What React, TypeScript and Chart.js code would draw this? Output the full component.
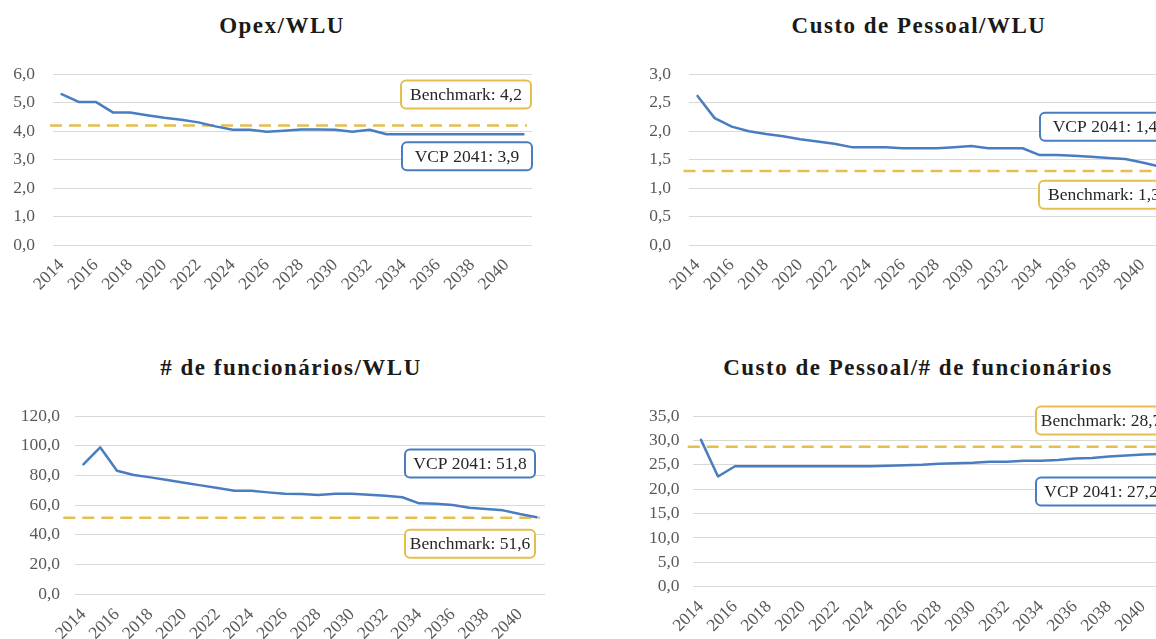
import { useEffect, useRef } from "react";
import { Chart, registerables } from "chart.js";

Chart.register(...registerables);

// Years on the horizontal axis (only even years get a label)
const years = [
  "2014", "2015", "2016", "2017", "2018", "2019", "2020", "2021", "2022", "2023",
  "2024", "2025", "2026", "2027", "2028", "2029", "2030", "2031", "2032", "2033",
  "2034", "2035", "2036", "2037", "2038", "2039", "2040", "2041",
];

// Opex/WLU
const opexPerWlu = [
  5.3, 5.03, 5.03, 4.66, 4.66, 4.56, 4.47, 4.4, 4.31, 4.17,
  4.05, 4.05, 3.98, 4.02, 4.06, 4.06, 4.05, 3.98, 4.05, 3.89,
  3.89, 3.89, 3.89, 3.89, 3.89, 3.89, 3.89, 3.89,
];
const opexBenchmark = 4.2;

// Custo de Pessoal/WLU
const staffCostPerWlu = [
  2.62, 2.23, 2.08, 2.0, 1.95, 1.91, 1.86, 1.82, 1.78, 1.72,
  1.72, 1.72, 1.7, 1.7, 1.7, 1.72, 1.74, 1.7, 1.7, 1.7,
  1.58, 1.58, 1.57, 1.55, 1.53, 1.51, 1.45, 1.38,
];
const staffCostBenchmark = 1.3;

// # de funcionários/WLU
const employeesPerWlu = [
  87.5, 98.9, 83.2, 80.3, 78.7, 76.9, 75.1, 73.3, 71.5, 69.7,
  69.7, 68.6, 67.7, 67.5, 66.8, 67.7, 67.7, 67.0, 66.4, 65.3,
  61.2, 61.0, 60.1, 58.3, 57.4, 56.5, 54.0, 51.8,
];
const employeesBenchmark = 51.6;

// Custo de Pessoal/# de funcionários
const costPerEmployee = [
  30.1, 22.6, 24.7, 24.7, 24.7, 24.7, 24.7, 24.7, 24.7, 24.7,
  24.7, 24.8, 24.9, 25.0, 25.2, 25.3, 25.4, 25.6, 25.6, 25.8,
  25.8, 26.0, 26.3, 26.4, 26.7, 26.9, 27.1, 27.2,
];
const costPerEmployeeBenchmark = 28.7;

const BLUE = "#4A7DC0";
const GOLD = "#E5BE4E";
const GRID = "#D9D9D9";
const TICK = "#595959";
const FONT = "'Liberation Serif', 'Times New Roman', serif";

const fmt = (v: number) => v.toFixed(1).replace(".", ",");

type Callout = { text: string; color: string; dx: number; yValue: number };

type Panel = {
  title: string;
  titleX: number;
  titleBaseline: number;
  canvas: { left: number; top: number; width: number; height: number };
  padTop: number;
  padRight: number;
  axisWidth: number;
  axisHeight: number;
  yPad: number;
  yMax: number;
  yStep: number;
  values: number[];
  benchmark: number;
  lineFrom: number;
  lineTo: number;
  callouts: Callout[];
};

const lastOf = (a: number[]) => a[a.length - 1];

const panels: Panel[] = [
  {
    title: "Opex/WLU",
    titleX: 282,
    titleBaseline: 33.3,
    canvas: { left: 0, top: 40, width: 570, height: 280 },
    padTop: 34.3,
    padRight: 38,
    axisWidth: 53,
    axisHeight: 75,
    yPad: 18,
    yMax: 6,
    yStep: 1,
    values: opexPerWlu,
    benchmark: opexBenchmark,
    lineFrom: -3,
    lineTo: -5,
    callouts: [
      { text: `Benchmark: ${fmt(opexBenchmark)}`, color: GOLD, dx: -131, yValue: 5.29 },
      { text: `VCP 2041: ${fmt(lastOf(opexPerWlu))}`, color: BLUE, dx: -130, yValue: 3.12 },
    ],
  },
  {
    title: "Custo de Pessoal/WLU",
    titleX: 919,
    titleBaseline: 33.3,
    canvas: { left: 636, top: 40, width: 570, height: 280 },
    padTop: 34.3,
    padRight: 38,
    axisWidth: 53,
    axisHeight: 75,
    yPad: 18,
    yMax: 3,
    yStep: 0.5,
    values: staffCostPerWlu,
    benchmark: staffCostBenchmark,
    lineFrom: -5.5,
    lineTo: -5,
    callouts: [
      { text: `VCP 2041: ${fmt(lastOf(staffCostPerWlu))}`, color: BLUE, dx: -128, yValue: 2.08 },
      { text: `Benchmark: ${fmt(staffCostBenchmark)}`, color: GOLD, dx: -129, yValue: 0.884 },
    ],
  },
  {
    title: "# de funcionários/WLU",
    titleX: 291,
    titleBaseline: 375,
    canvas: { left: 0, top: 380, width: 575, height: 290 },
    padTop: 36,
    padRight: 30,
    axisWidth: 75,
    axisHeight: 75.7,
    yPad: 15,
    yMax: 120,
    yStep: 20,
    values: employeesPerWlu,
    benchmark: employeesBenchmark,
    lineFrom: -11.7,
    lineTo: -5,
    callouts: [
      { text: `VCP 2041: ${fmt(lastOf(employeesPerWlu))}`, color: BLUE, dx: -140, yValue: 88.0 },
      { text: `Benchmark: ${fmt(employeesBenchmark)}`, color: GOLD, dx: -140, yValue: 34.0 },
    ],
  },
  {
    title: "Custo de Pessoal/# de funcionários",
    titleX: 918,
    titleBaseline: 375,
    canvas: { left: 636, top: 380, width: 570, height: 290 },
    padTop: 36,
    padRight: 37.5,
    axisWidth: 56.5,
    axisHeight: 83.3,
    yPad: 13,
    yMax: 35,
    yStep: 5,
    values: costPerEmployee,
    benchmark: costPerEmployeeBenchmark,
    lineFrom: -4.8,
    lineTo: -5,
    callouts: [
      { text: `Benchmark: ${fmt(costPerEmployeeBenchmark)}`, color: GOLD, dx: -132.5, yValue: 34.1 },
      { text: `VCP 2041: ${fmt(lastOf(costPerEmployee))}`, color: BLUE, dx: -132.5, yValue: 19.5 },
    ],
  },
];

// Dashed benchmark line under the series, callout boxes on top
const referenceMarks = {
  id: "referenceMarks",
  beforeDatasetsDraw(chart: any, _args: any, opts: any) {
    const { ctx, chartArea, scales } = chart;
    const y = scales.y.getPixelForValue(opts.benchmark);
    ctx.save();
    ctx.strokeStyle = GOLD;
    ctx.lineWidth = 2.5;
    ctx.setLineDash([12, 7]);
    ctx.beginPath();
    ctx.moveTo(chartArea.left + opts.lineFrom, y);
    ctx.lineTo(chartArea.right + opts.lineTo, y);
    ctx.stroke();
    ctx.restore();
  },
  afterDatasetsDraw(chart: any, _args: any, opts: any) {
    const { ctx, chartArea, scales } = chart;
    const w = 130;
    const h = 28;
    const r = 5;
    for (const c of opts.callouts as Callout[]) {
      const x = chartArea.right + c.dx;
      const cy = scales.y.getPixelForValue(c.yValue);
      const y = cy - h / 2;
      ctx.save();
      ctx.beginPath();
      ctx.moveTo(x + r, y);
      ctx.lineTo(x + w - r, y);
      ctx.arcTo(x + w, y, x + w, y + r, r);
      ctx.lineTo(x + w, y + h - r);
      ctx.arcTo(x + w, y + h, x + w - r, y + h, r);
      ctx.lineTo(x + r, y + h);
      ctx.arcTo(x, y + h, x, y + h - r, r);
      ctx.lineTo(x, y + r);
      ctx.arcTo(x, y, x + r, y, r);
      ctx.closePath();
      ctx.fillStyle = "#FFFFFF";
      ctx.fill();
      ctx.lineWidth = 2;
      ctx.strokeStyle = c.color;
      ctx.stroke();
      ctx.fillStyle = "#262626";
      ctx.font = `17.5px ${FONT}`;
      ctx.textAlign = "center";
      ctx.textBaseline = "middle";
      ctx.fillText(c.text, x + w / 2, cy + 1);
      ctx.restore();
    }
  },
};

function PanelChart({ p }: { p: Panel }) {
  const ref = useRef<HTMLCanvasElement | null>(null);

  useEffect(() => {
    if (!ref.current) return;
    const tickFont = { family: FONT, size: 17.5 };
    const chart = new Chart(ref.current, {
      type: "line",
      data: {
        labels: years,
        datasets: [
          {
            data: p.values,
            borderColor: BLUE,
            borderWidth: 2.5,
            pointRadius: 0,
            pointHoverRadius: 0,
            tension: 0,
            fill: false,
            borderJoinStyle: "round",
            borderCapStyle: "round",
          },
        ],
      },
      options: {
        responsive: false,
        animation: false,
        devicePixelRatio: 1,
        events: [],
        layout: { padding: { top: p.padTop, right: p.padRight, left: 0, bottom: 0 } },
        plugins: {
          legend: { display: false },
          tooltip: { enabled: false },
          title: { display: false },
          referenceMarks: {
            benchmark: p.benchmark,
            lineFrom: p.lineFrom,
            lineTo: p.lineTo,
            callouts: p.callouts,
          },
        } as any,
        scales: {
          x: {
            type: "category",
            offset: true,
            grid: { display: false, drawTicks: false },
            border: { display: false },
            ticks: {
              autoSkip: false,
              minRotation: 45,
              maxRotation: 45,
              padding: 10,
              color: TICK,
              font: tickFont,
              callback: (_v: any, i: number) => (i % 2 === 0 ? years[i] : ""),
            },
            afterFit: (s: any) => {
              s.height = p.axisHeight;
            },
          },
          y: {
            min: 0,
            max: p.yMax,
            grid: { color: GRID, lineWidth: 1, drawTicks: false },
            border: { display: false },
            ticks: {
              stepSize: p.yStep,
              padding: p.yPad,
              color: TICK,
              font: tickFont,
              callback: (v: any) => fmt(Number(v)),
            },
            afterFit: (s: any) => {
              s.width = p.axisWidth;
            },
          },
        },
      },
      plugins: [referenceMarks],
    });
    return () => chart.destroy();
  }, [p]);

  return (
    <canvas
      ref={ref}
      width={p.canvas.width}
      height={p.canvas.height}
      style={{
        position: "absolute",
        left: p.canvas.left,
        top: p.canvas.top,
        width: p.canvas.width,
        height: p.canvas.height,
      }}
    />
  );
}

export default function App() {
  return (
    <div
      style={{
        position: "absolute",
        left: 0,
        top: 0,
        width: 1156,
        height: 639,
        overflow: "hidden",
        background: "#FFFFFF",
      }}
    >
      {panels.map((p) => (
        <div
          key={p.title + "-t"}
          style={{
            position: "absolute",
            left: p.titleX - 300,
            top: p.titleBaseline - 19.3,
            width: 600,
            textAlign: "center",
            fontFamily: FONT,
            fontWeight: "bold",
            fontSize: 23,
            lineHeight: "23px",
            letterSpacing: "1.5px",
            color: "#1A1A1A",
            whiteSpace: "nowrap",
          }}
        >
          {p.title}
        </div>
      ))}
      {panels.map((p) => (
        <PanelChart key={p.title} p={p} />
      ))}
    </div>
  );
}
